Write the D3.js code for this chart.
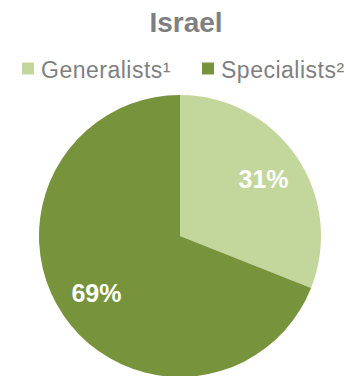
<!DOCTYPE html>
<html>
<head>
<meta charset="utf-8">
<script src="https://cdn.jsdelivr.net/npm/d3@7"></script>
<style>
  html, body { margin: 0; padding: 0; background: #fff; }
  svg { display: block; font-family: "Liberation Sans", Arial, sans-serif; }
</style>
</head>
<body>
<svg id="chart" width="348" height="376"></svg>
<script>
// Share of physicians, Israel
const categories = ["Generalists\u00B9", "Specialists\u00B2"];
const shares = [31, 69];
const colors = ["#C3D69B", "#77933C"];
const title = "Israel";

const svg = d3.select("#chart");
const cx = 180, cy = 236, r = 141;

svg.append("text")
  .attr("x", 186).attr("y", 32)
  .attr("text-anchor", "middle")
  .attr("font-size", 28).attr("font-weight", "bold")
  .attr("fill", "#7F7F7F")
  .text(title);

// Legend
const legendX = [22, 202];
const legend = svg.append("g");
categories.forEach((c, i) => {
  legend.append("rect")
    .attr("x", legendX[i]).attr("y", 62.5)
    .attr("width", 12).attr("height", 12)
    .attr("fill", colors[i]);
  legend.append("text")
    .attr("x", legendX[i] + 19).attr("y", 77.5)
    .attr("font-size", 23)
    .attr("letter-spacing", 0.5)
    .attr("fill", "#7F7F7F")
    .text(c);
});

const pie = d3.pie().sort(null).value(d => d);
const arcs = pie(shares);
const arc = d3.arc().innerRadius(0).outerRadius(r);
const labelArc = d3.arc().innerRadius(101).outerRadius(101);

const g = svg.append("g").attr("transform", `translate(${cx},${cy})`);
g.selectAll("path")
  .data(arcs)
  .join("path")
  .attr("d", arc)
  .attr("fill", (d, i) => colors[i]);

g.selectAll("text")
  .data(arcs)
  .join("text")
  .attr("transform", d => `translate(${labelArc.centroid(d)})`)
  .attr("text-anchor", "middle")
  .attr("dy", "0.36em")
  .attr("font-size", 25).attr("font-weight", "bold")
  .attr("fill", "#FFFFFF")
  .text(d => d.data + "%");
</script>
</body>
</html>
